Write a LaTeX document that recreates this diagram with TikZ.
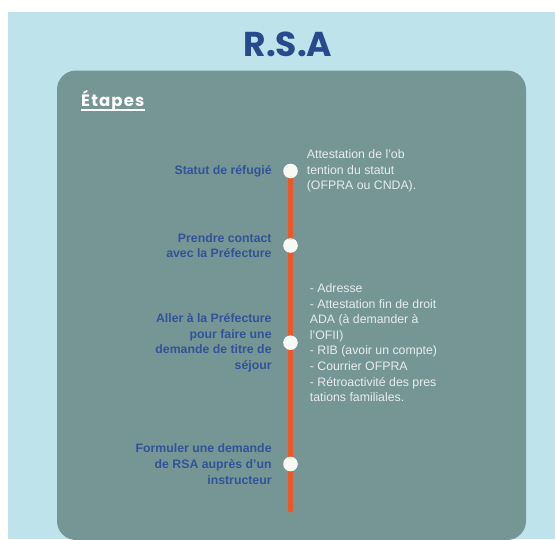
\documentclass[tikz,border=0pt]{standalone}
\usepackage{fontspec}
\setmainfont{Liberation Sans}
\newfontfamily\headfont{Poppins}
\usetikzlibrary{positioning}

\definecolor{pagebg}{RGB}{191,227,234}
\definecolor{panelbg}{RGB}{118,150,150}
\definecolor{titleblue}{RGB}{40,74,140}
\definecolor{labelblue}{RGB}{50,83,152}
\definecolor{lineorange}{RGB}{236,88,36}
\definecolor{dotwhite}{RGB}{248,248,244}
\definecolor{notegrey}{RGB}{230,236,236}

\tikzset{
  stepdot/.style={circle, fill=dotwhite, minimum size=14.6pt, inner sep=0pt},
  steplabel/.style={text=labelblue, align=right, inner sep=0pt,
    font=\bfseries\fontsize{12.3}{15.6}\selectfont},
  stepnote/.style={text=notegrey, align=left, inner sep=0pt,
    font=\fontsize{12.3}{15.6}\selectfont},
  timeline/.style={draw=lineorange, line width=5pt, line cap=round}
}

\begin{document}
\begin{tikzpicture}[x=1pt,y=-1pt]
  \useasboundingbox (0,0) rectangle (555,539);

  % background and panel
  \fill[pagebg] (8,12) rectangle (555,539);
  \fill[panelbg, rounded corners=19pt] (57,70.5) rectangle (526,540);

  % headings
  \node (title) at (288,44)
    {\headfont\bfseries\fontsize{34.5}{34.5}\selectfont\color{titleblue}R.S.A};
  \node[anchor=base west, inner sep=0pt, text=white] (etapes) at (81,106.7)
    {\headfont\bfseries\fontsize{16.5}{16.5}\selectfont\addfontfeature{LetterSpace=7}Étapes};
  \draw[white, line width=1.3pt]
    ([yshift=-3.4pt]etapes.base west) -- ([yshift=-3.4pt]etapes.base east);

  % timeline
  \coordinate (tlend) at (290.5,510);
  \coordinate (p1) at (290.5,171);
  \coordinate (p2) at (290.5,245.5);
  \coordinate (p3) at (290.5,342.7);
  \coordinate (p4) at (290.5,464);
  \draw[timeline] (p1) -- (tlend);
  \node[stepdot] (s1) at (p1) {};
  \node[stepdot] (s2) at (p2) {};
  \node[stepdot] (s3) at (p3) {};
  \node[stepdot] (s4) at (p4) {};

  % step labels
  \node[steplabel, left=11.2pt of s1] (l1) {Statut de réfugié};
  \node[steplabel, left=11.2pt of s2] (l2) {Prendre contact\\avec la Préfecture};
  \node[steplabel, left=11.2pt of s3] (l3)
    {Aller à la Préfecture\\pour faire une\\demande de titre de\\séjour};
  \node[steplabel, left=11.2pt of s4] (l4)
    {Formuler une demande\\de RSA auprès d’un\\instructeur};

  % notes
  \node[stepnote, right=8.7pt of s1] (n1)
    {Attestation de l’ob\\tention du statut\\(OFPRA ou CNDA).};
  \node[stepnote, right=11.7pt of s3] (n3)
    {- Adresse\\- Attestation fin de droit\\ADA (à demander à\\l’OFII)\\- RIB (avoir un compte)\\- Courrier OFPRA\\- Rétroactivité des pres\\tations familiales.};
\end{tikzpicture}
\end{document}
